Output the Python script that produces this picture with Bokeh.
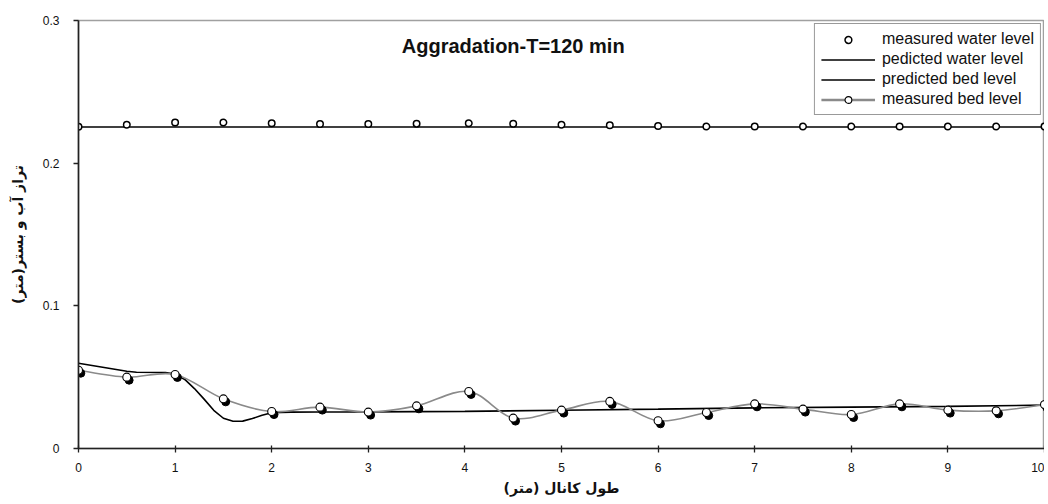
from bokeh.plotting import figure
from bokeh.models import (Range1d, FixedTicker, CustomJSTickFormatter, Legend, LegendItem,
                          ColumnDataSource, Label)
from bokeh.transform import dodge
from bokeh.embed import file_html
from bokeh.resources import INLINE
import numpy as np

# ---------------- data ----------------
measured_x = [0, 0.5, 1, 1.5, 2, 2.5, 3, 3.5, 4.04, 4.5, 5, 5.5, 6, 6.5, 7, 7.5, 8, 8.5, 9, 9.5, 10]
measured_water = [0.2255, 0.2270, 0.2285, 0.2285, 0.2280, 0.2275, 0.2275, 0.2277, 0.2280, 0.2277,
                  0.2270, 0.2266, 0.2260, 0.2257, 0.2257, 0.2257, 0.2257, 0.2257, 0.2257, 0.2257, 0.2257]
measured_bed = [0.0549, 0.0500, 0.0519, 0.0348, 0.0259, 0.0290, 0.0255, 0.0299, 0.0400, 0.0213,
                0.0269, 0.0330, 0.0194, 0.0252, 0.0313, 0.0276, 0.0238, 0.0313, 0.0269, 0.0264, 0.0308]

pred_water_x = [0, 10]
pred_water = [0.2254, 0.2254]

pred_bed_x = [0, 0.5, 0.6, 0.9, 1.0, 1.1, 1.2, 1.3, 1.4, 1.5, 1.6, 1.7, 1.8, 1.9, 2.0, 2.2, 2.5,
              3, 4, 5, 6, 7, 8, 9, 10]
pred_bed = [0.0598, 0.0542, 0.0534, 0.0533, 0.0522, 0.0484, 0.0420, 0.0346, 0.0268, 0.0212, 0.0191,
            0.0192, 0.0210, 0.0233, 0.0251, 0.0255, 0.0256, 0.0257, 0.0260, 0.0268, 0.0276, 0.0285,
            0.0290, 0.0295, 0.0304]

x_ticks = [0, 1, 2, 3, 4, 5, 6, 7, 8, 9, 10]
y_ticks = [0, 0.1, 0.2, 0.3]

title_text = "Aggradation-T=120 min"
x_label = "طول کانال (متر)"
y_label = "تراز آب و بستر(متر)"
legend_labels = ["measured water level", "pedicted water level", "predicted bed level", "measured bed level"]

# ---------------- figure ----------------
p = figure(width=1044, height=500, output_backend="svg", toolbar_location=None,
           x_range=Range1d(0, 10), y_range=Range1d(0, 0.3),
           min_border_left=78, min_border_right=0, min_border_top=20, min_border_bottom=52)
p.background_fill_color = "white"
p.border_fill_color = "white"
p.outline_line_color = "#a0a0a0"
p.outline_line_width = 1.5
p.xgrid.visible = False
p.ygrid.visible = False

for ax in (p.xaxis[0], p.yaxis[0]):
    ax.axis_line_color = "#222222"
    ax.axis_line_width = 1.6
    ax.major_tick_line_color = "#222222"
    ax.major_tick_line_width = 1.3
    ax.minor_tick_line_color = None
    ax.major_label_text_font = "Liberation Sans"
    ax.major_label_text_font_size = "12px"
    ax.major_label_text_color = "#111111"
    ax.axis_label_text_font = "DejaVu Sans"
    ax.axis_label_text_font_style = "bold"
    ax.axis_label_text_font_size = "14px"
    ax.axis_label_text_color = "#111111"

p.xaxis.ticker = FixedTicker(ticks=x_ticks)
p.yaxis.ticker = FixedTicker(ticks=y_ticks)
p.yaxis.formatter = CustomJSTickFormatter(code='return tick == 0 ? "0" : tick.toFixed(1);')
p.xaxis.major_tick_in = 3
p.xaxis.major_tick_out = 4
p.xaxis.major_label_standoff = 10
p.xaxis.axis_label_standoff = 5
p.yaxis.major_tick_in = 0
p.yaxis.major_tick_out = 5
p.yaxis.major_label_standoff = 14
p.yaxis.axis_label_standoff = 14
p.xaxis.axis_label = x_label
p.yaxis.axis_label = y_label

# ---------------- glyphs ----------------
# predicted water level
r_pw = p.line(pred_water_x, pred_water, line_color="black", line_width=1.4)

# predicted bed level
r_pb = p.line(pred_bed_x, pred_bed, line_color="black", line_width=1.6)

# measured bed level: smoothed line (Bezier through points)
mx = np.array(measured_x, dtype=float)
my = np.array(measured_bed, dtype=float)
px_ = np.concatenate([[mx[0]], mx, [mx[-1]]])
py_ = np.concatenate([[my[0]], my, [my[-1]]])
n = len(mx)
bz = dict(x0=mx[:-1], y0=my[:-1], x1=mx[1:], y1=my[1:],
          cx0=mx[:-1] + (px_[2:n + 1] - px_[0:n - 1]) / 6.0,
          cy0=my[:-1] + (py_[2:n + 1] - py_[0:n - 1]) / 6.0,
          cx1=mx[1:] - (px_[3:n + 2] - px_[1:n]) / 6.0,
          cy1=my[1:] - (py_[3:n + 2] - py_[1:n]) / 6.0)
r_bz = p.bezier(x0="x0", y0="y0", x1="x1", y1="y1", cx0="cx0", cy0="cy0", cx1="cx1", cy1="cy1",
                source=ColumnDataSource(bz), line_color="#8a8a8a", line_width=1.6)

bed_src = ColumnDataSource(dict(x=measured_x, y=measured_bed))
# shadow dots
p.scatter(x=dodge("x", 0.024), y=dodge("y", -0.0021), source=bed_src, marker="circle", size=8,
          fill_color="black", line_color="black")
r_mb = p.scatter(x="x", y="y", source=bed_src, marker="circle", size=8,
                 fill_color="white", line_color="black", line_width=1.1)

# measured water level
r_mw = p.scatter(measured_x, measured_water, marker="circle", size=6.5,
                 fill_color="white", line_color="black", line_width=1.5)

# legend-only line for measured bed level (single undefined point, draws nothing in the plot)
r_mb_line = p.line(x=[float("nan")], y=[float("nan")], line_color="#8a8a8a", line_width=2.5)

legend = Legend(items=[
    LegendItem(label=legend_labels[0], renderers=[r_mw]),
    LegendItem(label=legend_labels[1], renderers=[r_pw]),
    LegendItem(label=legend_labels[2], renderers=[r_pb]),
    LegendItem(label=legend_labels[3], renderers=[r_mb_line, r_mb]),
], location="top_right")
legend.margin = 3
legend.padding = 6
legend.spacing = 2
legend.glyph_width = 54
legend.glyph_height = 17
legend.label_height = 17
legend.label_standoff = 7
legend.label_text_font = "Liberation Sans"
legend.label_text_font_size = "16px"
legend.label_text_color = "#111111"
legend.border_line_color = "#333333"
legend.border_line_width = 1
legend.background_fill_color = "white"
legend.background_fill_alpha = 1
p.add_layout(legend)

p.add_layout(Label(x=4.5, y=0.2822, text=title_text, text_align="center",
                   text_baseline="alphabetic", text_font="Liberation Sans",
                   text_font_style="bold", text_font_size="20px", text_color="#111111"))

open("out.html", "w").write(file_html(p, INLINE))
